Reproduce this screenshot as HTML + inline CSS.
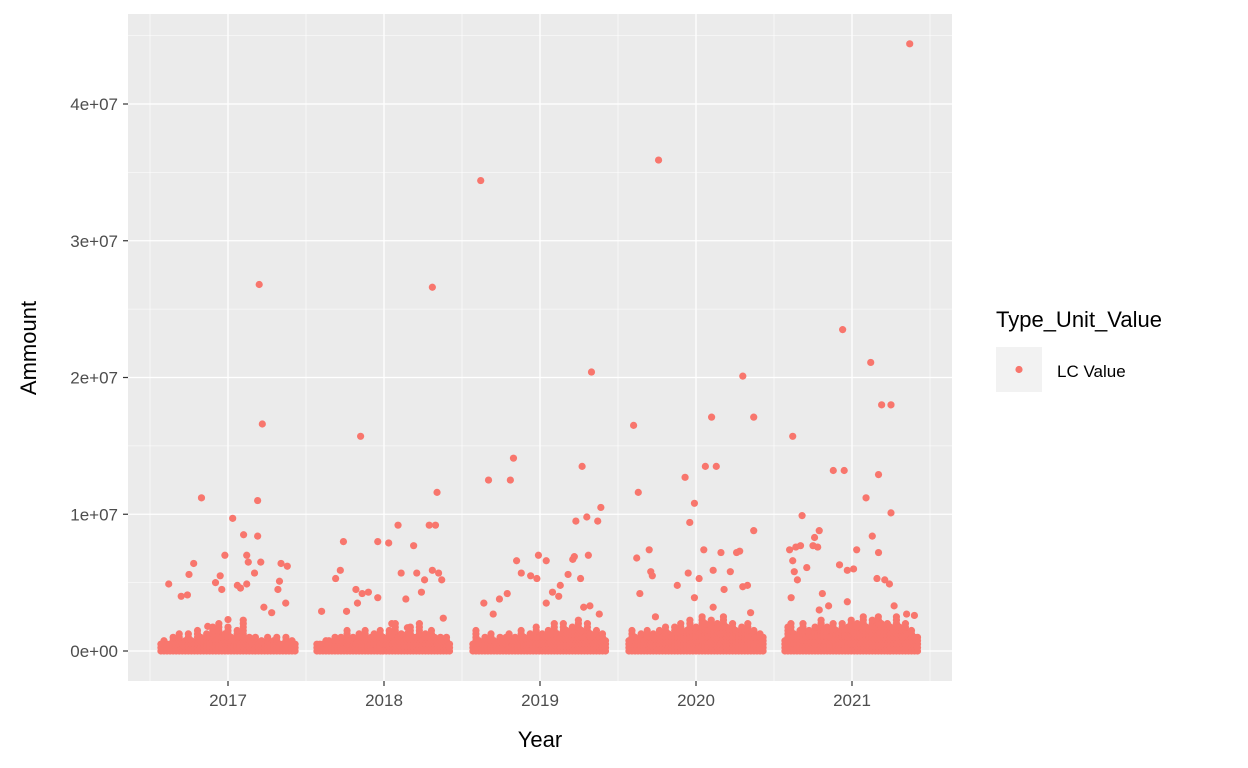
<!DOCTYPE html>
<html><head><meta charset="utf-8"><style>
body{margin:0;background:#fff;}
svg{display:block;font-family:"Liberation Sans",Arial,sans-serif;}
</style></head><body>
<svg id="chart" width="1248" height="768" viewBox="0 0 1248 768" xmlns="http://www.w3.org/2000/svg">
<rect x="128" y="14" width="824" height="667" fill="#EBEBEB"/>
<g id="grid"></g>
<g id="pts"></g>
<g id="axes"></g>
<text x="540" y="747" font-size="22" text-anchor="middle" fill="#000">Year</text>
<text x="36" y="348" font-size="22" text-anchor="middle" fill="#000" transform="rotate(-90 36 348)">Ammount</text>
<g>
<text x="996" y="327" font-size="22" fill="#000">Type_Unit_Value</text>
<rect x="996" y="347" width="46" height="45" fill="#F2F2F2"/>
<circle cx="1019" cy="369.5" r="3.6" fill="#F8766D"/>
<text x="1057" y="377" font-size="17" fill="#000">LC Value</text>
</g>
</svg>
<script>
const xTicks=[2017,2018,2019,2020,2021];
const xTickLabels=["2017","2018","2019","2020","2021"];
const yTicks=[0,10,20,30,40];
const yTickLabels=["0e+00","1e+07","2e+07","3e+07","4e+07"];
// outliers: [decimal year, value in millions]
const outlierPoints=[
[2016.62,4.9],[2016.70,4.0],[2016.74,4.1],[2016.78,6.4],[2016.75,5.6],[2016.83,11.2],[2016.87,1.8],[2016.92,5.0],[2016.95,5.5],[2016.98,7.0],[2016.96,4.5],[2017.0,2.3],[2017.03,9.7],[2017.06,4.8],[2017.08,4.6],[2017.10,8.5],[2017.12,7.0],[2017.13,6.5],[2017.17,5.7],[2017.19,8.4],[2017.21,6.5],[2017.20,26.8],[2017.19,11.0],[2017.22,16.6],[2017.28,2.8],[2017.23,3.2],[2017.32,4.5],[2017.33,5.1],[2017.34,6.4],[2017.38,6.2],[2017.37,3.5],[2017.12,4.9],
[2017.60,2.9],[2017.69,5.3],[2017.72,5.9],[2017.74,8.0],[2017.76,2.9],[2017.82,4.5],[2017.86,4.2],[2017.85,15.7],[2017.83,3.5],[2017.90,4.3],[2017.96,8.0],[2017.96,3.9],[2018.03,7.9],[2018.09,9.2],[2018.11,5.7],[2018.14,3.8],[2018.19,7.7],[2018.21,5.7],[2018.24,4.3],[2018.26,5.2],[2018.29,9.2],[2018.31,26.6],[2018.33,9.2],[2018.31,5.9],[2018.34,11.6],[2018.35,5.7],[2018.37,5.2],[2018.38,2.4],[2018.15,1.7],[2018.05,2.0],
[2018.62,34.4],[2018.67,12.5],[2018.64,3.5],[2018.70,2.7],[2018.74,3.8],[2018.79,4.2],[2018.81,12.5],[2018.83,14.1],[2018.85,6.6],[2018.88,5.7],[2018.94,5.5],[2018.98,5.3],[2018.99,7.0],[2019.04,6.6],[2019.04,3.5],[2019.08,4.3],[2019.12,4.0],[2019.13,4.8],[2019.18,5.6],[2019.21,6.7],[2019.23,9.5],[2019.22,6.9],[2019.27,13.5],[2019.26,5.3],[2019.30,9.8],[2019.31,7.0],[2019.33,20.4],[2019.32,3.3],[2019.37,9.5],[2019.39,10.5],[2019.38,2.7],[2019.28,3.2],
[2019.60,16.5],[2019.62,6.8],[2019.63,11.6],[2019.64,4.2],[2019.70,7.4],[2019.71,5.8],[2019.72,5.5],[2019.76,35.9],[2019.74,2.5],[2019.88,4.8],[2019.93,12.7],[2019.96,9.4],[2019.95,5.7],[2019.99,10.8],[2019.99,3.9],[2020.02,5.3],[2020.05,7.4],[2020.10,17.1],[2020.06,13.5],[2020.13,13.5],[2020.11,3.2],[2020.11,5.9],[2020.16,7.2],[2020.18,4.5],[2020.22,5.8],[2020.26,7.2],[2020.28,7.3],[2020.30,20.1],[2020.30,4.7],[2020.33,4.8],[2020.37,8.8],[2020.37,17.1],[2020.35,2.8],
[2020.60,7.4],[2020.62,15.7],[2020.62,6.6],[2020.63,5.8],[2020.64,7.6],[2020.65,5.2],[2020.61,3.9],[2020.67,7.7],[2020.68,9.9],[2020.71,6.1],[2020.75,7.7],[2020.76,8.3],[2020.78,7.6],[2020.79,8.8],[2020.79,3.0],[2020.81,4.2],[2020.85,3.3],[2020.88,13.2],[2020.92,6.3],[2020.94,23.5],[2020.95,13.2],[2020.97,5.9],[2021.01,6.0],[2021.03,7.4],[2020.97,3.6],[2021.09,11.2],[2021.13,8.4],[2021.12,21.1],[2021.16,5.3],[2021.17,12.9],[2021.17,7.2],[2021.19,18.0],[2021.21,5.2],[2021.24,4.9],[2021.25,18.0],[2021.25,10.1],[2021.27,3.3],[2021.37,44.4],[2021.40,2.6],[2021.35,2.7]
];
// dense low-value bands: season start/end years and weekly max values (millions)
const seasonStarts=[2016.57,2017.57,2018.57,2019.57,2020.57];
const seasonEnds=[2017.43,2018.42,2019.42,2020.43,2021.42];
const seasonBands=[
[0.5,0.8,0.6,0.7,1.0,0.7,1.3,0.6,0.9,1.4,0.8,0.7,1.6,1.0,0.8,1.4,1.1,1.9,0.9,2.1,1.0,1.4,1.8,1.0,0.8,1.5,1.2,2.4,0.9,1.1,0.7,1.0,0.6,0.9,0.6,1.1,0.7,0.8,1.2,0.6,0.6,1.0,0.7,0.9,0.6],
[0.5,0.7,0.6,0.8,0.9,0.6,1.0,0.8,1.1,0.8,1.5,0.9,1.1,0.7,1.3,1.0,1.5,0.8,1.0,1.3,0.9,1.6,1.1,0.9,1.7,1.2,2.0,1.0,1.4,0.9,1.3,1.8,1.0,1.2,2.0,0.9,1.4,1.1,1.6,1.0,0.8,1.2,0.8,1.0,0.7],
[0.7,1.6,0.8,0.7,1.1,0.8,1.4,0.9,0.7,1.2,0.8,1.0,1.3,0.8,1.1,0.9,1.5,1.0,0.8,1.3,1.1,1.8,1.2,1.4,1.0,1.7,1.3,2.0,1.4,1.2,2.2,1.6,1.3,1.9,1.5,2.3,1.7,1.2,2.0,1.4,1.1,1.6,1.0,1.3,0.9],
[0.9,1.5,1.1,0.8,1.3,0.9,1.7,1.2,1.4,1.0,1.6,1.2,1.9,1.3,1.1,1.8,1.4,2.1,1.2,1.6,2.3,1.5,1.8,1.3,2.6,2.0,1.6,2.4,1.8,2.2,1.4,2.5,1.9,1.6,2.1,1.7,1.3,1.9,1.5,2.0,1.2,1.6,1.1,1.4,1.0],
[0.8,1.8,2.2,1.3,1.1,1.6,2.0,1.2,1.5,1.1,1.9,1.4,2.3,1.6,1.8,1.2,2.0,1.7,1.4,2.2,1.5,1.9,2.4,1.7,2.1,1.4,2.5,1.8,1.6,2.3,1.9,2.6,2.0,1.7,2.2,1.8,1.5,2.7,1.9,1.6,2.0,1.3,1.7,1.2,1.1]
];
const NS="http://www.w3.org/2000/svg";
const X0=228,PX_PER_YEAR=156,Y0=651,PX_PER_M=13.675;
function xs(y){return X0+(y-2017)*PX_PER_YEAR;}
function ys(v){return Y0-v*PX_PER_M;}
function mk(tag,attrs,parent){const e=document.createElementNS(NS,tag);for(const k in attrs)e.setAttribute(k,attrs[k]);parent.appendChild(e);return e;}
const grid=document.getElementById('grid'),pts=document.getElementById('pts'),axes=document.getElementById('axes');
for(let i=0;i<xTicks.length;i++){const l=mk('line',{x1:xs(xTicks[i]+0.5),x2:xs(xTicks[i]+0.5),y1:14,y2:681,stroke:'#fff','stroke-width':0.6},grid);}
{const l=mk('line',{x1:xs(2016.5),x2:xs(2016.5),y1:14,y2:681,stroke:'#fff','stroke-width':0.6},grid);}
for(let i=0;i<yTicks.length;i++){const v=yTicks[i]+5;if(ys(v)<14)continue;const l=mk('line',{x1:128,x2:952,y1:ys(v),y2:ys(v),stroke:'#fff','stroke-width':0.6},grid);}
for(let i=0;i<xTicks.length;i++){
 const x=xs(xTicks[i]);
 const l=mk('line',{x1:x,x2:x,y1:14,y2:681,stroke:'#fff','stroke-width':1.3},grid);
 
 
 const t=mk('line',{x1:x,x2:x,y1:681,y2:686,stroke:'#333','stroke-width':1.2},axes);
 
 
 const tx=mk('text',{x:x,y:706,'font-size':17,'text-anchor':'middle',fill:'#4D4D4D'},axes);
 tx.textContent=xTickLabels[i];
 
 
}
for(let i=0;i<yTicks.length;i++){
 const y=ys(yTicks[i]);
 const l=mk('line',{x1:128,x2:952,y1:y,y2:y,stroke:'#fff','stroke-width':1.3},grid);
 
 
 const t=mk('line',{x1:123,x2:128,y1:y,y2:y,stroke:'#333','stroke-width':1.2},axes);
 
 
 const tx=mk('text',{x:118,y:y+6,'font-size':17,'text-anchor':'end',fill:'#4D4D4D'},axes);
 tx.textContent=yTickLabels[i];
 
 
}
for(let s=0;s<seasonBands.length;s++){
 const vals=seasonBands[s],n=vals.length;
 for(let i=0;i<n;i++){
  const yr=seasonStarts[s]+(seasonEnds[s]-seasonStarts[s])*i/(n-1);
  for(let v=0;v<=vals[i];v+=0.25){
   const c=mk('circle',{cx:xs(yr),cy:ys(v),r:3.6,fill:'#F8766D'},pts);
   
   
  }
 }
}
for(const p of outlierPoints){
 const c=mk('circle',{cx:xs(p[0]),cy:ys(p[1]),r:3.6,fill:'#F8766D'},pts);
 
 
}
</script>
</body></html>
